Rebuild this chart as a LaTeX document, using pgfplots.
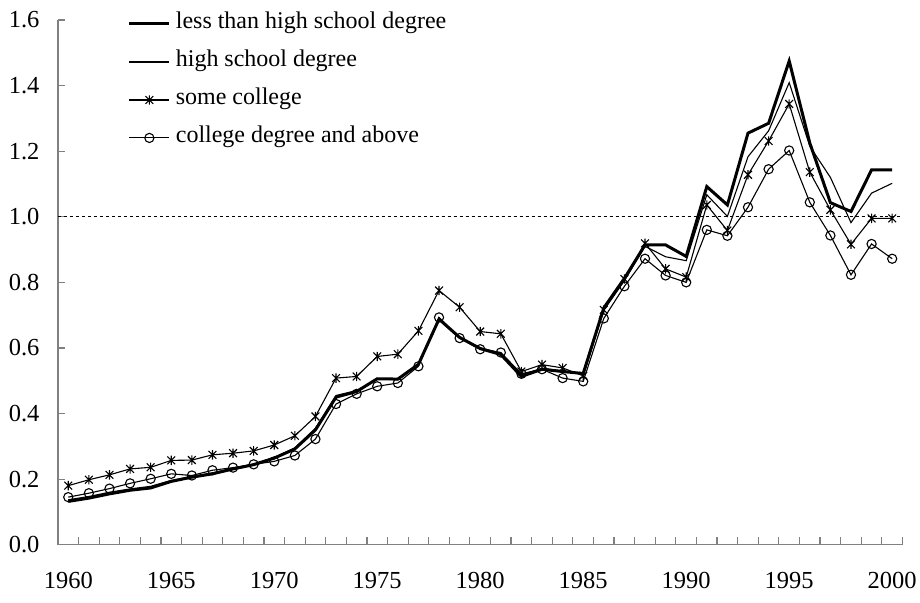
\documentclass[border=0pt]{standalone}
\usepackage{fontspec}
\setmainfont{Liberation Serif}
\usepackage{pgfplots}
\pgfplotsset{compat=1.18}
\usepackage{pgfplotstable}

\pgfdeclareplotmark{xstar}{%
  \pgfpathmoveto{\pgfqpoint{-\pgfplotmarksize}{-\pgfplotmarksize}}%
  \pgfpathlineto{\pgfqpoint{\pgfplotmarksize}{\pgfplotmarksize}}%
  \pgfpathmoveto{\pgfqpoint{-\pgfplotmarksize}{\pgfplotmarksize}}%
  \pgfpathlineto{\pgfqpoint{\pgfplotmarksize}{-\pgfplotmarksize}}%
  \pgfpathmoveto{\pgfqpoint{0pt}{-1.2\pgfplotmarksize}}%
  \pgfpathlineto{\pgfqpoint{0pt}{1.2\pgfplotmarksize}}%
  \pgfusepathqstroke}

\pgfplotstableread{
year lhs hs sc cd
1960 0.132 0.137 0.180 0.145
1961 0.142 0.147 0.198 0.157
1962 0.155 0.160 0.213 0.171
1963 0.166 0.170 0.231 0.187
1964 0.173 0.178 0.236 0.201
1965 0.193 0.196 0.257 0.216
1966 0.206 0.208 0.258 0.211
1967 0.216 0.219 0.274 0.227
1968 0.231 0.233 0.279 0.235
1969 0.244 0.246 0.286 0.245
1970 0.264 0.266 0.304 0.254
1971 0.292 0.295 0.332 0.272
1972 0.350 0.355 0.391 0.322
1973 0.450 0.455 0.508 0.429
1974 0.467 0.470 0.513 0.460
1975 0.506 0.505 0.574 0.483
1976 0.505 0.503 0.581 0.493
1977 0.550 0.548 0.652 0.544
1978 0.688 0.685 0.775 0.693
1979 0.632 0.630 0.724 0.630
1980 0.598 0.600 0.650 0.596
1981 0.580 0.585 0.643 0.586
1982 0.513 0.518 0.528 0.521
1983 0.535 0.538 0.549 0.535
1984 0.528 0.530 0.539 0.508
1985 0.522 0.520 0.515 0.498
1986 0.722 0.715 0.716 0.690
1987 0.812 0.805 0.810 0.788
1988 0.914 0.910 0.919 0.872
1989 0.914 0.878 0.841 0.821
1990 0.879 0.866 0.816 0.800
1991 1.092 1.067 1.036 0.960
1992 1.036 1.001 0.958 0.942
1993 1.255 1.183 1.128 1.029
1994 1.285 1.262 1.231 1.145
1995 1.475 1.409 1.344 1.202
1996 1.225 1.215 1.136 1.044
1997 1.043 1.120 1.021 0.943
1998 1.016 0.982 0.916 0.823
1999 1.143 1.072 0.995 0.917
2000 1.143 1.102 0.995 0.872
}\datatable

\definecolor{axgray}{RGB}{128,128,128}

\begin{document}
\begin{tikzpicture}
\begin{axis}[
  name=ax,
  scale only axis=true,
  width=845pt, height=525pt,
  xmin=1959.5, xmax=2000.5,
  ymin=0, ymax=1.6,
  axis lines=left,
  axis line style={-, axgray, line width=1.2pt},
  tick align=inside,
  tick style={axgray, line width=1.2pt},
  xtick={1960.5,1961.5,...,2000.5},
  xticklabels={},
  extra x ticks={1960,1965,...,2000},
  extra x tick labels={1960,1965,1970,1975,1980,1985,1990,1995,2000},
  extra x tick style={major tick length=0pt, tick style={draw=none}},
  major tick length=7.5pt,
  ytick={0,0.2,...,1.6},
  xticklabel style={yshift=-24pt},
  yticklabel style={xshift=-15pt, /pgf/number format/.cd, fixed, fixed zerofill, precision=1},
  /pgf/number format/assume math mode=true,
  tick label style={font=\fontsize{24.5}{28}\selectfont, black},
  clip=false,
  legend style={draw=none, fill=none, at={(rel axis cs:0.0828,1.0133)}, anchor=north west,
    inner sep=0pt, outer sep=0pt, font=\fontsize{24}{28}\selectfont,
    nodes={inner sep=0pt, text height=16pt, text depth=6pt},
    row sep=16pt, column sep=5pt},
  legend cell align=left,
  legend image code/.code={%
    \draw[mark repeat=2, mark phase=2, #1] plot coordinates {(0pt,0pt) (20pt,0pt) (40pt,0pt)};},
]
\addplot[black, dash pattern=on 3pt off 3pt, line width=1pt, forget plot] coordinates {(1959.5,1) (2000.5,1)};
\addplot[black, line width=3pt, no marks] table[x=year, y=lhs] {\datatable};
\addlegendentry{less than high school degree}
\addplot[black, line width=1.1pt, no marks] table[x=year, y=hs] {\datatable};
\addlegendentry{high school degree}
\addplot[black, line width=1.1pt, mark=xstar, mark size=3.9pt, mark options={line width=1.1pt}] table[x=year, y=sc] {\datatable};
\addlegendentry{some college}
\addplot[black, line width=1.1pt, mark=o, mark size=4.6pt, mark options={fill=white, line width=1.1pt}] table[x=year, y=cd] {\datatable};
\addlegendentry{college degree and above}
\end{axis}
\path[use as bounding box] ([xshift=-58pt,yshift=-58pt]ax.south west) rectangle ([xshift=17pt,yshift=20pt]ax.north east);
\end{tikzpicture}
\end{document}
